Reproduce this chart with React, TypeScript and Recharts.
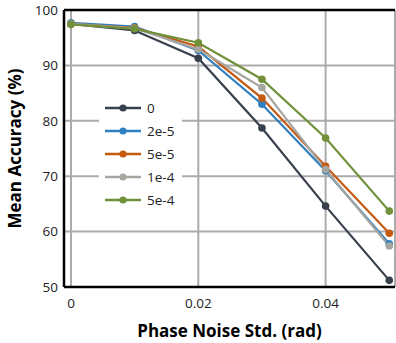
import { LineChart, Line, XAxis, YAxis, CartesianGrid, ReferenceLine, Legend, Label } from 'recharts'

const noiseStd = [0, 0.01, 0.02, 0.03, 0.04, 0.05]
const seriesNames = ['0', '2e-5', '5e-5', '1e-4', '5e-4']
const acc0 = [97.5, 96.3, 91.3, 78.7, 64.6, 51.2]
const acc2e5 = [97.7, 97.0, 92.7, 83.0, 71.0, 57.8]
const acc5e5 = [97.5, 96.8, 93.4, 84.1, 71.8, 59.7]
const acc1e4 = [97.5, 96.7, 92.9, 86.0, 71.2, 57.4]
const acc5e4 = [97.4, 96.6, 94.1, 87.5, 76.9, 63.7]
const xTicks = [0, 0.02, 0.04]
const yTicks = [50, 60, 70, 80, 90, 100]

const colors = ['#37404c', '#2f80c0', '#c55a11', '#a6a6a1', '#709139']
const seriesValues = [acc0, acc2e5, acc5e5, acc1e4, acc5e4]

const data = noiseStd.map((x, i) => {
  const row: Record<string, number> = { x }
  seriesNames.forEach((name, k) => {
    row[name] = seriesValues[k][i]
  })
  return row
})

const font = "'Open Sans', sans-serif"

function LegendBox() {
  return (
    <div style={{ background: '#fff', padding: '1px 8px 2px 6px', fontFamily: font, fontSize: 13.5, color: '#222' }}>
      {seriesNames.map((name, k) => (
        <div key={name} style={{ display: 'flex', alignItems: 'center', height: 22.8 }}>
          <svg width={36} height={10} style={{ marginRight: 6 }}>
            <line x1={0} y1={5} x2={36} y2={5} stroke={colors[k]} strokeWidth={2.5} />
            <circle cx={18} cy={5} r={3.6} fill={colors[k]} />
          </svg>
          <span>{name}</span>
        </div>
      ))}
    </div>
  )
}

export default function App() {
  return (
    <div style={{ position: 'absolute', left: 0, top: 0, width: 396, height: 343, background: '#fff' }}>
      <LineChart width={396} height={343} data={data} margin={{ top: 10, right: 1, left: 0, bottom: 0 }}>
        <CartesianGrid stroke="#ababab" strokeWidth={2} />
        <XAxis
          dataKey="x"
          type="number"
          domain={[-0.0011, 0.0509]}
          ticks={xTicks}
          tickFormatter={(v: number) => String(v)}
          height={56}
          tickSize={0}
          tickMargin={11}
          axisLine={{ stroke: '#000', strokeWidth: 2.5 }}
          tick={{ fill: '#222', fontSize: 13.5, fontFamily: font }}
        >
          <Label
            value="Phase Noise Std. (rad)"
            position="insideBottom"
            offset={6}
            style={{ fontFamily: font, fontWeight: 700, fontSize: 17, fill: '#000' }}
          />
        </XAxis>
        <YAxis
          type="number"
          domain={[50, 100]}
          ticks={yTicks}
          width={64}
          tickSize={0}
          tickMargin={6}
          axisLine={{ stroke: '#000', strokeWidth: 2.5 }}
          tick={{ fill: '#222', fontSize: 13.5, fontFamily: font }}
        >
          <Label
            value="Mean Accuracy (%)"
            angle={-90}
            position="insideLeft"
            offset={15}
            style={{ textAnchor: 'middle', fontFamily: font, fontWeight: 700, fontSize: 17, fill: '#000' }}
          />
        </YAxis>
        <ReferenceLine y={100} stroke="#000" strokeWidth={2.5} />
        {seriesNames.map((name, k) => (
          <Line
            key={name}
            type="linear"
            dataKey={name}
            stroke={colors[k]}
            strokeWidth={2.2}
            dot={{ r: 3.8, fill: colors[k], stroke: colors[k], strokeWidth: 0 }}
            activeDot={false}
            isAnimationActive={false}
          />
        ))}
        <Legend
          layout="horizontal"
          verticalAlign="middle"
          align="center"
          content={<LegendBox />}
          wrapperStyle={{ left: 99, top: 96, width: 'auto' }}
        />
      </LineChart>
    </div>
  )
}
